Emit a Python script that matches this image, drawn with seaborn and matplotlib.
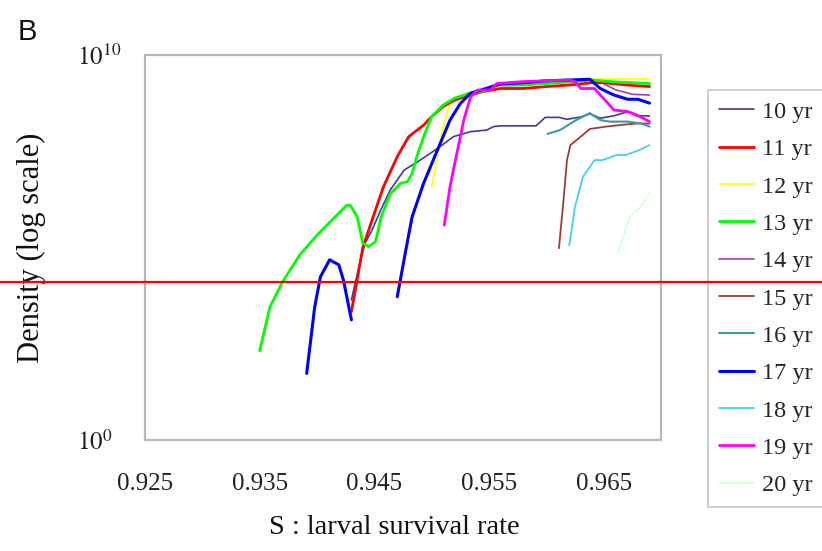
import numpy as np
import pandas as pd
import matplotlib
matplotlib.use("Agg")
import matplotlib.pyplot as plt
import seaborn as sns
from matplotlib.lines import Line2D

# ---------------- data (S, log10 density) ----------------
series_names = ["10 yr", "11 yr", "12 yr", "13 yr", "14 yr", "15 yr",
                "16 yr", "17 yr", "18 yr", "19 yr", "20 yr"]

s10 = [0.943, 0.9438, 0.9442, 0.9448, 0.9456, 0.9464, 0.9476, 0.949, 0.9505, 0.9519,
       0.9534, 0.9548, 0.9554, 0.956, 0.9591, 0.9599, 0.9611, 0.9618, 0.963, 0.9638,
       0.9647, 0.9659, 0.9671, 0.9679, 0.969]
y10 = [3.64, 4.68, 5.12, 5.45, 6.0, 6.5, 7.01, 7.27, 7.57, 7.88,
       8.01, 8.05, 8.14, 8.16, 8.16, 8.38, 8.38, 8.33, 8.39, 8.47,
       8.36, 8.42, 8.53, 8.42, 8.42]

s11 = [0.943, 0.9435, 0.944, 0.9449, 0.9458, 0.947, 0.948, 0.9493, 0.950, 0.951,
       0.952, 0.9533, 0.9545, 0.956, 0.958, 0.960, 0.962, 0.964, 0.965, 0.967, 0.969]
y11 = [3.33, 4.16, 5.0, 5.80, 6.58, 7.36, 7.88, 8.18, 8.40, 8.66,
       8.83, 8.96, 9.05, 9.13, 9.13, 9.18, 9.22, 9.28, 9.28, 9.22, 9.18]

s12 = [0.950, 0.9505, 0.951, 0.9515, 0.952, 0.953, 0.955, 0.956, 0.958, 0.960,
       0.962, 0.964, 0.966, 0.969]
y12 = [6.58, 7.36, 8.14, 8.66, 8.83, 9.0, 9.1, 9.2, 9.22, 9.3,
       9.33, 9.37, 9.38, 9.38]

s13 = [0.935, 0.9359, 0.937, 0.9385, 0.940, 0.9426, 0.9429, 0.9435, 0.944, 0.9445,
       0.9451, 0.9456, 0.9464, 0.9473, 0.9479, 0.9483, 0.9487, 0.9493, 0.950, 0.951,
       0.952, 0.9534, 0.955, 0.9557, 0.958, 0.960, 0.962, 0.964, 0.966, 0.969]
y13 = [2.32, 3.46, 4.11, 4.81, 5.32, 6.10, 6.10, 5.80, 5.11, 5.02,
       5.15, 5.80, 6.40, 6.67, 6.71, 6.93, 7.36, 7.88, 8.40, 8.70,
       8.88, 9.01, 9.09, 9.22, 9.22, 9.26, 9.30, 9.35, 9.30, 9.26]

s14 = [0.953, 0.955, 0.956, 0.958, 0.960, 0.962, 0.964, 0.9647, 0.966, 0.9675, 0.969]
y14 = [9.0, 9.1, 9.2, 9.22, 9.28, 9.32, 9.35, 9.3, 9.1, 8.98, 8.96]

s15 = [0.9611, 0.9615, 0.9618, 0.9621, 0.963, 0.9638, 0.9652, 0.9664, 0.9678, 0.969]
y15 = [4.98, 6.23, 7.27, 7.66, 7.88, 8.08, 8.14, 8.18, 8.22, 8.22]

s16 = [0.9601, 0.9612, 0.9626, 0.9638, 0.9647, 0.9655, 0.9671, 0.9683, 0.969]
y16 = [7.95, 8.05, 8.31, 8.49, 8.31, 8.27, 8.27, 8.22, 8.14]

s17a = [0.9391, 0.9398, 0.9403, 0.9411, 0.9419, 0.9423, 0.9430]
y17a = [1.73, 3.46, 4.24, 4.68, 4.55, 4.16, 3.12]
s17b = [0.947, 0.9478, 0.9483, 0.9493, 0.9505, 0.9516, 0.9525, 0.9534, 0.9543, 0.956,
        0.958, 0.960, 0.962, 0.9638, 0.9647, 0.9659, 0.9671, 0.968, 0.969]
y17b = [3.72, 5.02, 5.80, 6.67, 7.53, 8.31, 8.74, 9.01, 9.09, 9.25,
        9.28, 9.33, 9.35, 9.37, 9.13, 8.96, 8.85, 8.85, 8.75]

s18 = [0.9620, 0.9625, 0.9632, 0.9642, 0.9649, 0.9661, 0.9669, 0.9681, 0.969]
y18 = [5.06, 6.06, 6.84, 7.27, 7.27, 7.40, 7.40, 7.53, 7.66]

s19 = [0.9511, 0.9516, 0.9522, 0.9528, 0.9534, 0.954, 0.9551, 0.9557, 0.958, 0.960,
       0.962, 0.9625, 0.963, 0.9642, 0.9659, 0.9671, 0.9679, 0.969]
y19 = [5.58, 6.58, 7.45, 8.31, 8.92, 9.09, 9.09, 9.26, 9.31, 9.33,
       9.35, 9.31, 9.13, 9.13, 8.57, 8.53, 8.44, 8.27]

s20 = [0.9662, 0.9668, 0.9673, 0.9682, 0.969]
y20 = [4.85, 5.37, 5.80, 6.06, 6.41]

threshold_log = 4.1
x_ticks = [0.925, 0.935, 0.945, 0.955, 0.965]
x_tick_labels = ["0.925", "0.935", "0.945", "0.955", "0.965"]

# ---------------- style ----------------
colors = {"10 yr": "#3c3c9c", "11 yr": "#ff0000", "12 yr": "#ffff00", "13 yr": "#00ff00",
          "14 yr": "#a040b8", "15 yr": "#9c3c3c", "16 yr": "#3c9c9c", "17 yr": "#0000ff",
          "18 yr": "#40d0ff", "19 yr": "#ff00ff", "20 yr": "#d8ffd8"}
widths = {"10 yr": 1.2, "11 yr": 2.0, "12 yr": 1.2, "13 yr": 2.0, "14 yr": 1.2,
          "15 yr": 1.3, "16 yr": 1.5, "17 yr": 2.2, "18 yr": 1.3, "19 yr": 2.0, "20 yr": 1.2}

segments = [("10 yr", s10, y10), ("14 yr", s14, y14), ("15 yr", s15, y15),
            ("16 yr", s16, y16), ("18 yr", s18, y18), ("20 yr", s20, y20),
            ("12 yr", s12, y12), ("11 yr", s11, y11), ("13 yr", s13, y13),
            ("17 yr", s17a, y17a), ("17 yr", s17b, y17b), ("19 yr", s19, y19)]

sns.set_theme(style="white")
plt.rcParams["font.family"] = ["Liberation Serif", "DejaVu Serif"]
plt.rcParams["mathtext.fontset"] = "stix"

fig = plt.figure(figsize=(8.22, 5.51), dpi=100)
ax = fig.add_axes([145 / 822, 111 / 551, 516 / 822, 385 / 551])

for name, xs, ys in segments:
    df = pd.DataFrame({"S": xs, "D": np.power(10.0, ys)})
    sns.lineplot(data=df, x="S", y="D", ax=ax, color=colors[name],
                 linewidth=widths[name], sort=False, estimator=None, legend=False)

ax.set_yscale("log")
ax.set_xlim(0.925, 0.970)
ax.set_ylim(1, 1e10)

ax.axhline(10 ** threshold_log, xmin=-145 / 516, xmax=(822 - 145) / 516,
           color="#ff0000", linewidth=1.6, clip_on=False, zorder=10)

ax.set_xticks(x_ticks)
ax.set_xticklabels(x_tick_labels)
ax.set_yticks([1, 1e10])
ax.set_yticklabels([r"$10^{0}$", r"$10^{10}$"])
ax.yaxis.set_minor_locator(matplotlib.ticker.NullLocator())
ax.tick_params(axis="x", direction="in", length=7, width=1, color="#b0b0b0",
               labelsize=18, pad=24, labelcolor="#222222")
ax.tick_params(axis="y", length=0, labelsize=18, pad=49, labelcolor="#222222")
for lab in ax.get_yticklabels():
    lab.set_horizontalalignment("left")

for sp in ax.spines.values():
    sp.set_color("#b8b8b8")
    sp.set_linewidth(1.6)

ax.set_xlabel("S : larval survival rate", fontsize=20.5, color="#111111")
ax.xaxis.set_label_coords(0.483, -0.195)
ax.set_ylabel("Density (log scale)", fontsize=22, labelpad=22, color="#111111")

fig.text(18 / 822, 1 - 40 / 551, "B", fontsize=21, family="Liberation Sans",
         color="#111111")

handles = [Line2D([], [], color=colors[n], linewidth=widths[n]) for n in series_names]
leg = ax.legend(handles, series_names, loc="upper left",
                bbox_to_anchor=(708 / 822, 1 - 90 / 551), bbox_transform=fig.transFigure,
                frameon=True, fancybox=False, edgecolor="#b8b8b8", fontsize=17.5,
                handlelength=1.45, handletextpad=0.33, labelspacing=0.63,
                borderpad=0.45, borderaxespad=0)
leg.get_frame().set_linewidth(1.2)
leg.set_zorder(5)

fig.savefig("out.png", dpi=100)
